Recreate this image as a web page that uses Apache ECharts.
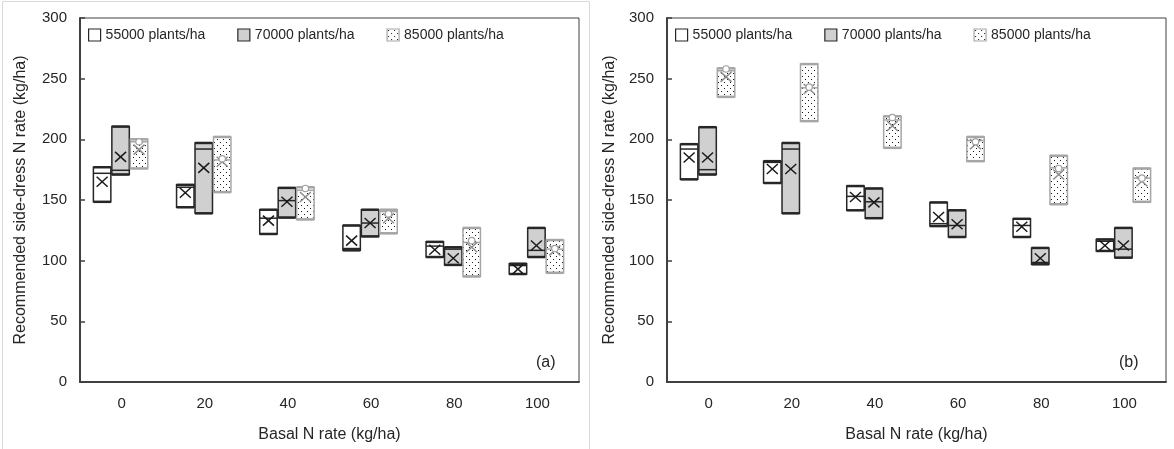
<!DOCTYPE html>
<html><head><meta charset="utf-8">
<script src="https://cdn.jsdelivr.net/npm/echarts@6/dist/echarts.min.js"></script>
<style>html,body{margin:0;padding:0;background:#fff}#c{width:1174px;height:449px}</style>
</head><body><div id="c"></div>
<script>
const categories = ['0', '20', '40', '60', '80', '100'];
const seriesNames = ['55000 plants/ha', '70000 plants/ha', '85000 plants/ha'];
const yTicks = [0, 50, 100, 150, 200, 250, 300];

// Panel (a)
const a55Low    = [148.5, 144, 122, 108.5, 103, 89];
const a55High   = [177, 162.5, 142, 129, 115.5, 97.5];
const a55Median = [172, 160.5, 135, 110, 112, 96];
const a55Mean   = [165, 156, 133, 116.5, 109, 93];

const a70Low    = [171, 139, 135.5, 120, 96.5, 103];
const a70High   = [210.5, 197, 160, 142, 111, 127];
const a70Median = [174.5, 192, 149.5, 131, 109.5, 108.5];
const a70Mean   = [185.5, 176.5, 148.5, 131, 102, 112.5];

const a85Low    = [176, 156.5, 134, 122.5, 87, 90];
const a85High   = [200, 202, 160.5, 142, 127, 117];
const a85Median = [198, 183, 158, 140.5, 115, 109.5];
const a85Mean   = [191.5, 181.5, 152.5, 135, 111, 108.5];
const a85Circle = [198, 184, 159.5, 138.5, 116.5, 110];

// Panel (b)
const b55Low    = [167, 164, 141.5, 128.5, 119.5, 108];
const b55High   = [196, 182, 161.5, 148, 134.5, 117.5];
const b55Median = [192, 181, 153, 130.5, 129, 116];
const b55Mean   = [185, 175.5, 152.5, 136, 128, 112.5];

const b70Low    = [171, 139, 135, 119.5, 97, 102.5];
const b70High   = [210, 197, 159.5, 141.5, 110.5, 127];
const b70Median = [175, 192, 148.5, 129, 98.5, 109.5];
const b70Mean   = [185, 175.5, 148, 130, 102, 112.5];

const b85Low    = [235, 215, 193, 182, 146.5, 148.5];
const b85High   = [258.5, 262, 219, 202, 186.5, 176];
const b85Median = [256.5, 242.5, 216, 199, 176.5, 168];
const b85Mean   = [251.5, 241.5, 211, 196, 171, 165.5];
const b85Circle = [258, 243, 218, 198, 176, 168];

// dotted pattern
const pc = document.createElement('canvas');
pc.width = 6; pc.height = 6;
const pctx = pc.getContext('2d');
pctx.fillStyle = '#fff'; pctx.fillRect(0, 0, 6, 6);
pctx.fillStyle = '#1a1a1a';
pctx.fillRect(1, 1, 1, 1); pctx.fillRect(4, 4, 1, 1);
const dotFill = { image: pc, repeat: 'repeat' };

const styles = [
  { fill: '#ffffff', stroke: '#262626', mark: '#1a1a1a' },
  { fill: '#d0d0d0', stroke: '#262626', mark: '#1a1a1a' },
  { fill: dotFill,   stroke: '#a6a6a6', mark: '#8c8c8c' }
];

function rows(low, high, med, mean, circ) {
  return categories.map((c, i) => [i, low[i], high[i], med[i], mean[i], circ ? circ[i] : null]);
}

function makeRender(si) {
  return function (params, api) {
    const c = api.value(0);
    const band = api.size([1, 0])[0];
    const w = band * 0.21;
    const step = band * 0.222;
    const cx = api.coord([c, 0])[0] + (si - 1) * step - band * 0.012;
    const yLo = api.coord([c, api.value(1)])[1];
    const yHi = api.coord([c, api.value(2)])[1];
    const yMed = api.coord([c, api.value(3)])[1];
    const yMean = api.coord([c, api.value(4)])[1];
    const st = styles[si];
    const x0 = cx - w / 2, x1 = cx + w / 2;
    const ch = [
      { type: 'rect', shape: { x: x0, y: yHi, width: w, height: yLo - yHi }, style: { fill: st.fill, stroke: st.stroke, lineWidth: 1.5 } },
      { type: 'line', shape: { x1: x0, y1: yHi, x2: x1, y2: yHi }, style: { stroke: st.stroke, lineWidth: 2.5 } },
      { type: 'line', shape: { x1: x0, y1: yLo, x2: x1, y2: yLo }, style: { stroke: st.stroke, lineWidth: 2.5 } },
      { type: 'line', shape: { x1: x0, y1: yMed, x2: x1, y2: yMed }, style: { stroke: st.stroke, lineWidth: 1.5 } },
      { type: 'line', shape: { x1: cx - 5.5, y1: yMean - 5, x2: cx + 5.5, y2: yMean + 5 }, style: { stroke: st.mark, lineWidth: 1.5 } },
      { type: 'line', shape: { x1: cx - 5.5, y1: yMean + 5, x2: cx + 5.5, y2: yMean - 5 }, style: { stroke: st.mark, lineWidth: 1.5 } }
    ];
    const cv = api.value(5);
    if (si === 2 && cv != null && !isNaN(cv)) {
      const yC = api.coord([c, cv])[1];
      ch.push({ type: 'circle', shape: { cx: cx, cy: yC, r: 3.2 }, style: { fill: '#fff', stroke: '#a0a0a0', lineWidth: 1.2 } });
    }
    return { type: 'group', children: ch };
  };
}

const panelData = [
  [rows(a55Low, a55High, a55Median, a55Mean), rows(a70Low, a70High, a70Median, a70Mean), rows(a85Low, a85High, a85Median, a85Mean, a85Circle)],
  [rows(b55Low, b55High, b55Median, b55Mean), rows(b70Low, b70High, b70Median, b70Mean), rows(b85Low, b85High, b85Median, b85Mean, b85Circle)]
];

const textColor = '#262626';
const axisColor = '#404040';
const font = 'Liberation Sans, Arial, sans-serif';

const grids = [
  { left: 80, right: 595, top: 18, bottom: 67, show: true, borderColor: axisColor, borderWidth: 1 },
  { left: 667, right: 8, top: 18, bottom: 67, show: true, borderColor: axisColor, borderWidth: 1 }
];

const xAxes = [0, 1].map(g => ({
  type: 'category', gridIndex: g, data: categories, boundaryGap: true,
  name: 'Basal N rate (kg/ha)', nameLocation: 'middle', nameGap: 45,
  nameTextStyle: { fontSize: 16, color: textColor, fontFamily: font },
  axisLine: { lineStyle: { color: axisColor, width: 2 } },
  axisTick: { inside: true, length: 5, interval: 0, lineStyle: { color: axisColor, width: 1.5 } },
  axisLabel: { fontSize: 15, color: textColor, fontFamily: font, margin: 14, interval: 0 },
  splitLine: { show: false }
}));

const yAxes = [0, 1].map(g => ({
  type: 'value', gridIndex: g, min: yTicks[0], max: yTicks[yTicks.length - 1], interval: 50,
  name: 'Recommended side-dress N rate (kg/ha)', nameLocation: 'middle', nameGap: g === 0 ? 51 : 49,
  nameTextStyle: { fontSize: 16, color: textColor, fontFamily: font },
  axisLine: { show: true, lineStyle: { color: axisColor, width: 2 } },
  axisTick: { show: true, inside: true, length: 5, lineStyle: { color: axisColor, width: 1.5 } },
  axisLabel: { fontSize: 15, color: textColor, fontFamily: font, margin: 13 },
  splitLine: { show: false }
}));

const series = [];
[0, 1].forEach(g => {
  [0, 1, 2].forEach(si => {
    series.push({
      type: 'custom', name: seriesNames[si], xAxisIndex: g, yAxisIndex: g,
      renderItem: makeRender(si), data: panelData[g][si],
      encode: { x: 0, y: [1, 2, 3, 4] },
      itemStyle: { color: si === 1 ? '#d0d0d0' : '#fff', borderColor: styles[si].stroke },
      silent: true, animation: false
    });
  });
});

const legendData = seriesNames.map((n, si) => ({
  name: n, icon: 'rect',
  itemStyle: { color: styles[si].fill, borderColor: styles[si].stroke, borderWidth: 1.2 }
}));

const legends = [83, 670].map(l => ({
  left: l, top: 23, orient: 'horizontal', itemWidth: 12, itemHeight: 12, itemGap: 32,
  selectedMode: false, data: legendData,
  textStyle: { fontSize: 14, color: textColor, fontFamily: font, padding: [0, 0, 0, 0] }
}));

const chart = echarts.init(document.getElementById('c'), null, { renderer: 'canvas' });
chart.setOption({
  animation: false,
  backgroundColor: '#fff',
  grid: grids, xAxis: xAxes, yAxis: yAxes, legend: legends, series: series,
  graphic: [
    { type: 'rect', shape: { x: 2.5, y: 1.5, width: 587, height: 460 }, style: { fill: 'none', stroke: '#d9d9d9', lineWidth: 1 }, silent: true, z: -10 },
    { type: 'text', left: 536, top: 355, style: { text: '(a)', fontSize: 16, fill: textColor, fontFamily: font } },
    { type: 'text', left: 1119, top: 355, style: { text: '(b)', fontSize: 16, fill: textColor, fontFamily: font } }
  ]
});
</script></body></html>
